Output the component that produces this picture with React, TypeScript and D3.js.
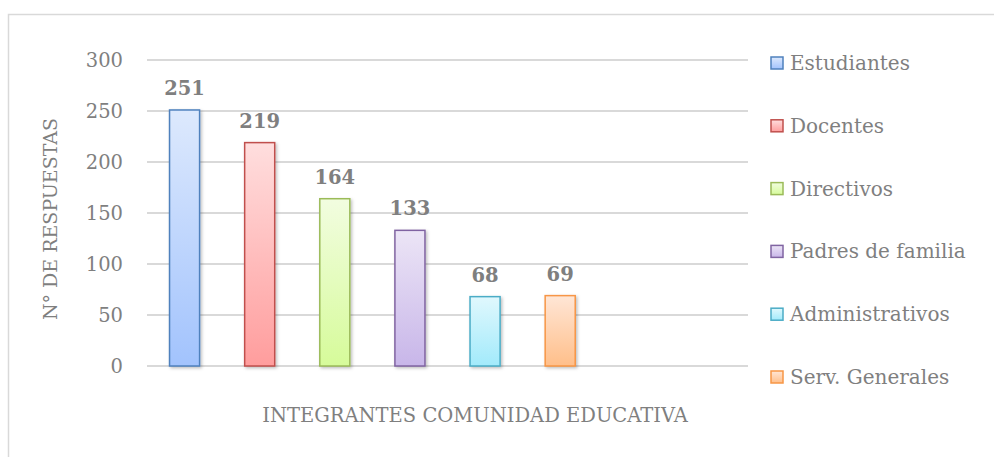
import React from "react";
import * as d3 from "d3";

const categories = ["Estudiantes", "Docentes", "Directivos", "Padres de familia", "Administrativos", "Serv. Generales"];
const values = [251, 219, 164, 133, 68, 69];
const yTicks = [0, 50, 100, 150, 200, 250, 300];
const strokeColors = ["#4f81bd", "#c0504d", "#9bbb59", "#8064a2", "#4bacc6", "#f79646"];
const topColors = ["#dde9fd", "#ffdede", "#f2fde0", "#ece5f6", "#e0f8fd", "#ffe6d6"];
const bottomColors = ["#a2c3fd", "#ff9d9d", "#d6fb9a", "#c8b6e9", "#a2eafb", "#ffbf8a"];
const xTitle = "INTEGRANTES COMUNIDAD EDUCATIVA";
const yTitle = "N° DE RESPUESTAS";

const W = 994;
const H = 457;
const plotLeft = 147;
const plotRight = 748;
const plotTop = 60;
const plotBottom = 366;
const slots = 8;

export default function App() {
  const font = "'DejaVu Serif', serif";
  const gray = "#7f7f7f";
  const y = d3.scaleLinear().domain([0, 300]).range([plotBottom, plotTop]);
  const slotW = (plotRight - plotLeft) / slots;
  const x = d3
    .scaleBand<string>()
    .domain(categories)
    .range([plotLeft, plotLeft + slotW * categories.length])
    .paddingInner(0.6)
    .paddingOuter(0.3);

  return (
    <div style={{ position: "absolute", left: 0, top: 0 }}>
      <svg width={W} height={H} style={{ display: "block", background: "#fff" }}>
        <defs>
          {categories.map((c, i) => (
            <linearGradient key={c} id={`g${i}`} x1="0" y1="0" x2="0" y2="1">
              <stop offset="0%" stopColor={topColors[i]} />
              <stop offset="100%" stopColor={bottomColors[i]} />
            </linearGradient>
          ))}
          <filter id="sh" x="-30%" y="-10%" width="160%" height="120%">
            <feDropShadow dx="1.5" dy="1.5" stdDeviation="1.5" floodColor="#000" floodOpacity="0.25" />
          </filter>
        </defs>
        <rect x={8.5} y={14.5} width={1000} height={460} fill="#fff" stroke="#d9d9d9" strokeWidth={1.5} />
        {yTicks.map((t) => (
          <g key={t}>
            <line x1={plotLeft} x2={plotRight} y1={y(t)} y2={y(t)} stroke="#d9d9d9" strokeWidth={2} />
            <text x={123} y={y(t)} dy="0.35em" textAnchor="end" fontFamily={font} fontSize={19.5} fill={gray}>
              {t}
            </text>
          </g>
        ))}
        {categories.map((c, i) => {
          const bx = x(c)!;
          const by = y(values[i]);
          return (
            <g key={c}>
              <rect
                x={bx}
                y={by}
                width={x.bandwidth()}
                height={plotBottom - by}
                fill={`url(#g${i})`}
                stroke={strokeColors[i]}
                strokeWidth={1.5}
                filter="url(#sh)"
              />
              <text
                x={bx + x.bandwidth() / 2}
                y={by - 15}
                textAnchor="middle"
                fontFamily={font}
                fontWeight="bold"
                fontSize={19.5}
                fill={gray}
              >
                {values[i]}
              </text>
            </g>
          );
        })}
        <text
          transform={`translate(57, ${(plotTop + plotBottom) / 2 + 6}) rotate(-90)`}
          textAnchor="middle"
          fontFamily={font}
          fontSize={19}
          fill={gray}
        >
          {yTitle}
        </text>
        <text x={475} y={422} textAnchor="middle" fontFamily={font} fontSize={19.5} fill={gray}>
          {xTitle}
        </text>
        {categories.map((c, i) => {
          const ly = 63 + i * 62.8;
          return (
            <g key={c}>
              <rect
                x={771}
                y={ly - 6}
                width={12}
                height={12}
                fill={`url(#g${i})`}
                stroke={strokeColors[i]}
                strokeWidth={1.5}
              />
              <text x={790} y={ly} dy="0.35em" fontFamily={font} fontSize={20} fill={gray}>
                {c}
              </text>
            </g>
          );
        })}
      </svg>
    </div>
  );
}
